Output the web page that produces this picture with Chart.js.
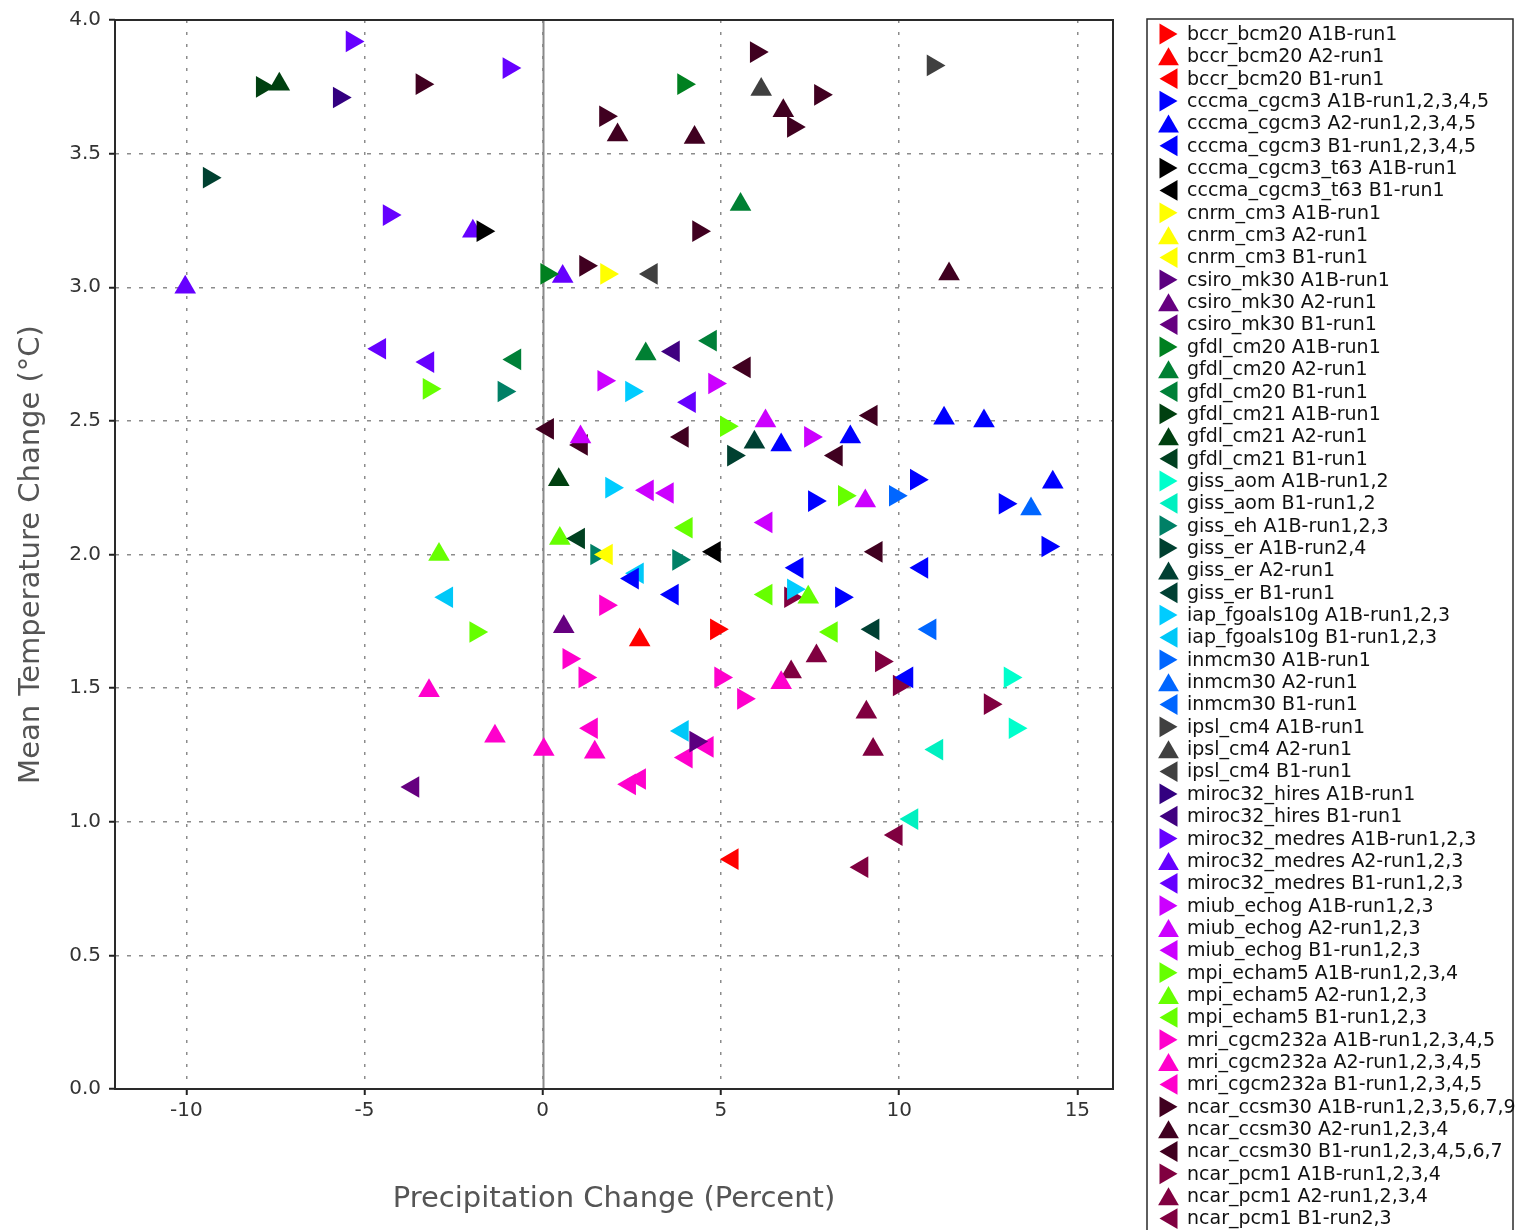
<!DOCTYPE html>
<html>
<head>
<meta charset="utf-8">
<script src="https://cdn.jsdelivr.net/npm/chart.js@4.4.1/dist/chart.umd.min.js"></script>
<style>
  html, body { margin: 0; padding: 0; background: #fff; }
  #wrap { width: 1516px; height: 1230px; position: relative; }
</style>
</head>
<body>
<div id="wrap"><canvas id="chart" width="1516" height="1230"></canvas></div>
<script>
// precipitation change (%) , mean temperature change (degC) per model run set
const bccrA1B = [[4.87, 1.72]];
const bccrA2 = [[2.72, 1.68]];
const bccrB1 = [[5.32, 0.86]];
const cgcm3A1B = [[10.48, 2.28], [7.62, 2.20], [12.97, 2.19], [14.17, 2.03], [8.38, 1.84]];
const cgcm3A2 = [[6.69, 2.41], [11.26, 2.51], [12.38, 2.50], [8.63, 2.44], [14.31, 2.27]];
const cgcm3B1 = [[2.52, 1.91], [3.64, 1.85], [7.14, 1.95], [10.64, 1.95], [10.22, 1.54]];
const t63A1B = [[-1.68, 3.21]];
const t63B1 = [[4.82, 2.01]];
const cnrmA1B = [[1.79, 3.05]];
const cnrmA2 = [];
const cnrmB1 = [[1.79, 2.00]];
const csiroA1B = [[4.29, 1.30]];
const csiroA2 = [[0.59, 1.73]];
const csiroB1 = [[-3.64, 1.13]];
const cm20A1B = [[3.95, 3.76], [0.11, 3.05]];
const cm20A2 = [[2.89, 2.75], [5.55, 3.31]];
const cm20B1 = [[-0.78, 2.73], [4.71, 2.80]];
const cm21A1B = [[-7.87, 3.75]];
const cm21A2 = [[-7.39, 3.76], [0.45, 2.28]];
const cm21B1 = [[1.01, 2.06]];
const aomA1B = [[13.11, 1.54], [13.25, 1.35]];
const aomB1 = [[11.06, 1.27], [10.36, 1.01]];
const ehA1B = [[-1.09, 2.61], [1.51, 2.00], [3.81, 1.98]];
const erA1B = [[-9.36, 3.41], [5.35, 2.37]];
const erA2 = [[5.94, 2.42]];
const erB1 = [[9.27, 1.72]];
const iapA1B = [[1.93, 2.25], [2.49, 2.61], [7.03, 1.87]];
const iapB1 = [[2.66, 1.93], [-2.69, 1.84], [3.92, 1.34]];
const inmA1B = [[9.89, 2.22]];
const inmA2 = [[13.70, 2.17]];
const inmB1 = [[10.87, 1.72]];
const ipslA1B = [[10.95, 3.83]];
const ipslA2 = [[6.13, 3.74]];
const ipslB1 = [[3.05, 3.05]];
const hiresA1B = [[-5.71, 3.71]];
const hiresB1 = [[3.67, 2.76]];
const medresA1B = [[-5.35, 3.92], [-0.95, 3.82], [-4.31, 3.27]];
const medresA2 = [[-10.03, 3.00], [-1.96, 3.21], [0.56, 3.04]];
const medresB1 = [[-4.57, 2.77], [-3.22, 2.72], [4.12, 2.57]];
const miubA1B = [[1.71, 2.65], [4.82, 2.64], [7.51, 2.44]];
const miubA2 = [[1.06, 2.44], [6.25, 2.50], [9.05, 2.20]];
const miubB1 = [[2.94, 2.24], [3.50, 2.23], [6.27, 2.12]];
const mpiA1B = [[-3.19, 2.62], [5.15, 2.48], [-1.88, 1.71], [8.46, 2.22]];
const mpiA2 = [[0.48, 2.06], [-2.91, 2.00], [7.45, 1.84]];
const mpiB1 = [[4.03, 2.10], [6.27, 1.85], [8.10, 1.71]];
const mriA1B = [[1.76, 1.81], [0.73, 1.61], [1.18, 1.54], [4.99, 1.54], [5.63, 1.46]];
const mriA2 = [[6.69, 1.52], [-3.19, 1.49], [-1.34, 1.32], [0.03, 1.27], [1.46, 1.26]];
const mriB1 = [[1.37, 1.35], [4.62, 1.28], [4.03, 1.24], [2.72, 1.16], [2.44, 1.14]];
const ccsmA1B = [[-3.39, 3.76], [5.99, 3.88], [7.03, 3.60], [7.79, 3.72], [1.76, 3.64], [4.37, 3.21], [1.20, 3.08]];
const ccsmA2 = [[6.75, 3.66], [2.10, 3.57], [4.26, 3.56], [11.40, 3.05]];
const ccsmB1 = [[5.66, 2.70], [0.14, 2.47], [1.09, 2.41], [3.92, 2.44], [9.22, 2.52], [8.24, 2.37], [9.36, 2.01]];
const pcmA1B = [[6.95, 1.84], [9.50, 1.60], [10.00, 1.51], [12.55, 1.44]];
const pcmA2 = [[7.68, 1.62], [6.97, 1.56], [9.08, 1.41], [9.27, 1.27]];
const pcmB1 = [[9.92, 0.95], [8.96, 0.83]];

const seriesValues = [
  bccrA1B, bccrA2, bccrB1, cgcm3A1B, cgcm3A2, cgcm3B1, t63A1B, t63B1,
  cnrmA1B, cnrmA2, cnrmB1, csiroA1B, csiroA2, csiroB1, cm20A1B, cm20A2, cm20B1,
  cm21A1B, cm21A2, cm21B1, aomA1B, aomB1, ehA1B, erA1B, erA2, erB1, iapA1B, iapB1,
  inmA1B, inmA2, inmB1, ipslA1B, ipslA2, ipslB1, hiresA1B, hiresB1,
  medresA1B, medresA2, medresB1, miubA1B, miubA2, miubB1, mpiA1B, mpiA2, mpiB1,
  mriA1B, mriA2, mriB1, ccsmA1B, ccsmA2, ccsmB1, pcmA1B, pcmA2, pcmB1
];

const seriesLabels = [
  'bccr_bcm20 A1B-run1', 'bccr_bcm20 A2-run1', 'bccr_bcm20 B1-run1',
  'cccma_cgcm3 A1B-run1,2,3,4,5', 'cccma_cgcm3 A2-run1,2,3,4,5', 'cccma_cgcm3 B1-run1,2,3,4,5',
  'cccma_cgcm3_t63 A1B-run1', 'cccma_cgcm3_t63 B1-run1',
  'cnrm_cm3 A1B-run1', 'cnrm_cm3 A2-run1', 'cnrm_cm3 B1-run1',
  'csiro_mk30 A1B-run1', 'csiro_mk30 A2-run1', 'csiro_mk30 B1-run1',
  'gfdl_cm20 A1B-run1', 'gfdl_cm20 A2-run1', 'gfdl_cm20 B1-run1',
  'gfdl_cm21 A1B-run1', 'gfdl_cm21 A2-run1', 'gfdl_cm21 B1-run1',
  'giss_aom A1B-run1,2', 'giss_aom B1-run1,2',
  'giss_eh A1B-run1,2,3',
  'giss_er A1B-run2,4', 'giss_er A2-run1', 'giss_er B1-run1',
  'iap_fgoals10g A1B-run1,2,3', 'iap_fgoals10g B1-run1,2,3',
  'inmcm30 A1B-run1', 'inmcm30 A2-run1', 'inmcm30 B1-run1',
  'ipsl_cm4 A1B-run1', 'ipsl_cm4 A2-run1', 'ipsl_cm4 B1-run1',
  'miroc32_hires A1B-run1', 'miroc32_hires B1-run1',
  'miroc32_medres A1B-run1,2,3', 'miroc32_medres A2-run1,2,3', 'miroc32_medres B1-run1,2,3',
  'miub_echog A1B-run1,2,3', 'miub_echog A2-run1,2,3', 'miub_echog B1-run1,2,3',
  'mpi_echam5 A1B-run1,2,3,4', 'mpi_echam5 A2-run1,2,3', 'mpi_echam5 B1-run1,2,3',
  'mri_cgcm232a A1B-run1,2,3,4,5', 'mri_cgcm232a A2-run1,2,3,4,5', 'mri_cgcm232a B1-run1,2,3,4,5',
  'ncar_ccsm30 A1B-run1,2,3,5,6,7,9', 'ncar_ccsm30 A2-run1,2,3,4', 'ncar_ccsm30 B1-run1,2,3,4,5,6,7',
  'ncar_pcm1 A1B-run1,2,3,4', 'ncar_pcm1 A2-run1,2,3,4', 'ncar_pcm1 B1-run2,3'
];

const seriesColors = [
  '#ff0000', '#ff0000', '#ff0000', '#0000ff', '#0000ff', '#0000ff', '#000000', '#000000',
  '#ffff00', '#ffff00', '#ffff00', '#5c0080', '#660080', '#660080', '#008020', '#008033', '#008038',
  '#004010', '#004010', '#004020', '#00ffcc', '#00f0c0', '#008066', '#004030', '#004033', '#004033',
  '#00ccff', '#00c8f8', '#0066ff', '#0066ff', '#0066ff', '#404040', '#404040', '#404040',
  '#330080', '#400080', '#6600ff', '#6600ff', '#6600ff', '#cc00ff', '#cc00ff', '#cc00ff',
  '#66ff00', '#66ff00', '#66ff00', '#ff00cc', '#ff00cc', '#ff00cc',
  '#400020', '#400020', '#400020', '#800040', '#800040', '#800040'
];

const xTicks = [-10, -5, 0, 5, 10, 15];
const yTicks = [0, 0.5, 1, 1.5, 2, 2.5, 3, 3.5, 4];

// A1B points right, A2 points up, B1 points left
function markerRotation(label) {
  if (label.includes(' A1B')) return 90;
  if (label.includes(' B1')) return -90;
  return 0;
}

const datasets = seriesLabels.map((label, i) => ({
  label: label,
  data: seriesValues[i].map(p => ({ x: p[0], y: p[1] })),
  pointStyle: 'triangle',
  rotation: markerRotation(label),
  pointRadius: 12.5,
  pointHoverRadius: 12.5,
  backgroundColor: seriesColors[i],
  borderColor: seriesColors[i],
  borderWidth: 0,
  showLine: false
}));

// solid zero line plus the dark frame round the plot
const framePlugin = {
  id: 'frame',
  beforeDatasetsDraw(chart) {
    const { ctx, chartArea, scales } = chart;
    const x0 = Math.round(scales.x.getPixelForValue(0)) + 0.5;
    ctx.save();
    ctx.strokeStyle = '#8a8a8a';
    ctx.lineWidth = 2;
    ctx.beginPath();
    ctx.moveTo(x0, chartArea.top);
    ctx.lineTo(x0, chartArea.bottom);
    ctx.stroke();
    ctx.restore();
  },
  afterDatasetsDraw(chart) {
    const { ctx, chartArea } = chart;
    ctx.save();
    ctx.strokeStyle = '#2a2a2a';
    ctx.lineWidth = 2;
    ctx.strokeRect(chartArea.left, chartArea.top, chartArea.right - chartArea.left, chartArea.bottom - chartArea.top);
    ctx.restore();
  }
};

function drawTriangle(ctx, cx, cy, r, rotation) {
  // bounding box centred triangle
  const rad = rotation * Math.PI / 180;
  const shift = r / 4;
  const ox = cx - Math.sin(rad) * shift;
  const oy = cy + Math.cos(rad) * shift;
  ctx.beginPath();
  for (let k = 0; k < 3; k++) {
    const a = rad + k * 2 * Math.PI / 3;
    const px = ox + Math.sin(a) * r;
    const py = oy - Math.cos(a) * r;
    if (k === 0) ctx.moveTo(px, py); else ctx.lineTo(px, py);
  }
  ctx.closePath();
  ctx.fill();
}

const legendPlugin = {
  id: 'sideLegend',
  afterDraw(chart) {
    const ctx = chart.ctx;
    const left = 1147, top = 19, width = 366;
    ctx.save();
    ctx.strokeStyle = '#2a2a2a';
    ctx.lineWidth = 1.5;
    ctx.strokeRect(left, top, width, 1260);
    ctx.font = '19px "DejaVu Sans"';
    ctx.textBaseline = 'middle';
    seriesLabels.forEach((label, i) => {
      const y = 34 + i * 22.35;
      ctx.fillStyle = seriesColors[i];
      drawTriangle(ctx, 1168.5, y, 12, markerRotation(label));
      ctx.fillStyle = '#111';
      ctx.fillText(label, 1187, y + 1);
    });
    ctx.restore();
  }
};

const tickFont = { family: '"DejaVu Sans"', size: 20 };
const titleFont = { family: '"DejaVu Sans"', size: 29 };

new Chart(document.getElementById('chart'), {
  type: 'scatter',
  data: { datasets: datasets },
  options: {
    responsive: false,
    animation: false,
    devicePixelRatio: 1,
    layout: { padding: { top: 19, right: 403, left: 0, bottom: 0 } },
    plugins: {
      legend: { display: false },
      tooltip: { enabled: false }
    },
    scales: {
      x: {
        type: 'linear',
        min: -12,
        max: 16,
        afterBuildTicks: s => { s.ticks = xTicks.map(v => ({ value: v })); },
        afterFit: s => { s.height = 141; },
        ticks: { font: tickFont, color: '#333', padding: 4, maxRotation: 0 },
        grid: { color: '#8c8c8c', lineWidth: 1.5, tickLength: 6, tickColor: '#222', tickWidth: 2 },
        border: { display: false, dash: [3, 9] },
        title: {
          display: true,
          text: 'Precipitation Change (Percent)',
          font: titleFont,
          color: '#555',
          padding: { top: 0, bottom: 13 }
        }
      },
      y: {
        type: 'linear',
        min: 0,
        max: 4,
        afterBuildTicks: s => { s.ticks = yTicks.map(v => ({ value: v })); },
        afterFit: s => { s.width = 115; },
        ticks: { font: tickFont, color: '#333', padding: 8, callback: v => v.toFixed(1) },
        grid: { color: '#8c8c8c', lineWidth: 1.5, tickLength: 6, tickColor: '#222', tickWidth: 2 },
        border: { display: false, dash: [4, 8] },
        title: {
          display: true,
          text: 'Mean Temperature Change (°C)',
          font: titleFont,
          color: '#555',
          padding: { top: 14, bottom: 0 }
        }
      }
    }
  },
  plugins: [framePlugin, legendPlugin]
});
</script>
</body>
</html>
